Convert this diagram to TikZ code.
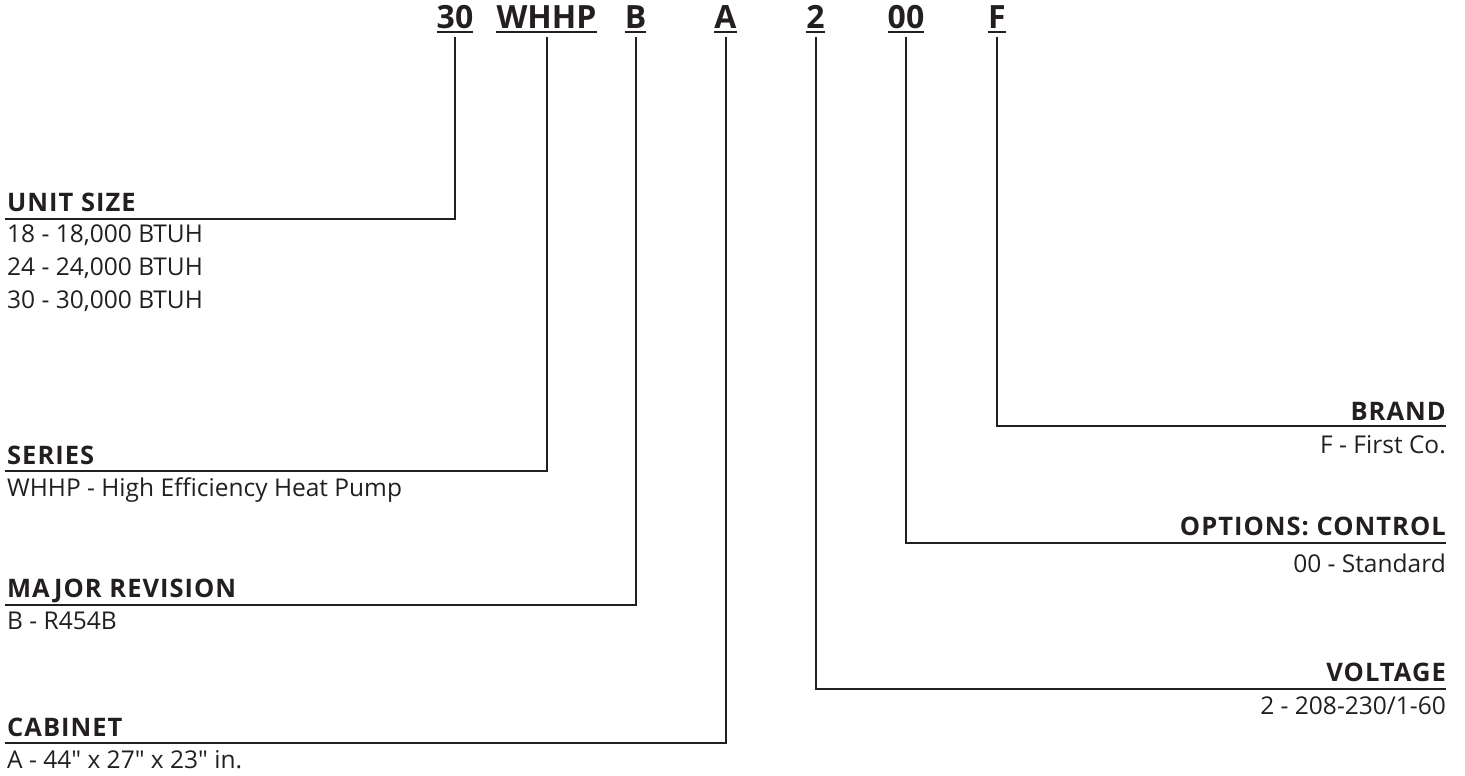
\documentclass[tikz,border=0pt]{standalone}
\usepackage{fontspec}
\setmainfont{Open Sans}
\newfontfamily\hdfamily[LetterSpace=4]{Open Sans}
\newfontfamily\dsfamily{Open Sans}
\definecolor{ink}{HTML}{231F20}
\newcommand{\codefont}{\fontsize{32}{38}\selectfont\bfseries\color{ink}}
\newcommand{\headfont}{\hdfamily\fontsize{25.5}{30}\selectfont\bfseries\color{ink}}
\newcommand{\descfont}{\dsfamily\fontsize{24.5}{33}\selectfont\color{ink}}

\begin{document}
\begin{tikzpicture}[x=1pt,y=-1pt,
  code/.style={inner sep=0pt,anchor=base,font=\codefont},
  headl/.style={inner sep=0pt,anchor=base west,font=\headfont},
  headr/.style={inner sep=0pt,anchor=base east,font=\headfont},
  descl/.style={inner sep=0pt,anchor=base west,font=\descfont},
  descr/.style={inner sep=0pt,anchor=base east,font=\descfont},
  conn/.style={line width=2pt,draw=ink}]

  \useasboundingbox (0,0) rectangle (1465,776);

  % model number
  \node[code] (n30) at (455,29) {30};
  \node[code] (nwhhp) at (546.5,29) {WHHP};
  \node[code] (nb) at (635.5,29) {B};
  \node[code] (na) at (725.5,29) {A};
  \node[code] (n2) at (815.5,29) {2};
  \node[code] (n00) at (906,29) {00};
  \node[code] (nf) at (997,29) {F};

  \foreach \n in {n30,nwhhp,nb,na,n2,n00,nf}
    \draw[conn] ([yshift=-3.5pt]\n.base west) -- ([yshift=-3.5pt]\n.base east);

  % line ends
  \coordinate (lunit) at (5,219);
  \coordinate (lseries) at (5,471);
  \coordinate (lmajor) at (5,605);
  \coordinate (lcab) at (5,743);
  \coordinate (rbrand) at (1446,426);
  \coordinate (ropt) at (1446,543);
  \coordinate (rvolt) at (1446,689);

  % left side
  \node[headl] (unit) at (7,211) {UNIT SIZE};
  \draw (7,242) node[descl] (u18) {18 - 18,000 BTUH}
  ++(0,33) node[descl] (u24) {24 - 24,000 BTUH}
  ++(0,33) node[descl] (u30) {30 - 30,000 BTUH};

  \node[headl] (series) at (7,464) {SERIES};
  \node[descl] (whhp) at (7,496) {WHHP - High Efficiency Heat Pump};

  \node[headl] (major) at (7,597) {MAJOR REVISION};
  \node[descl] (r454b) at (7,629) {B - R454B};

  \node[headl] (cab) at (7,736) {CABINET};
  \node[descl] (cabA) at (7,768) {A - 44" x 27" x 23" in.};

  % right side
  \node[headr] (brand) at (1446,420) {BRAND};
  \node[descr] (first) at (1446,453) {F - First Co.};

  \node[headr] (opt) at (1446,535) {OPTIONS: CONTROL};
  \node[descr] (std) at (1446,572) {00 - Standard};

  \node[headr] (volt) at (1446,681) {VOLTAGE};
  \node[descr] (v208) at (1446,714) {2 - 208-230/1-60};

  % connectors
  \draw[conn] ([yshift=-8pt]n30.base) |- (lunit);
  \draw[conn] ([yshift=-8pt]nwhhp.base) |- (lseries);
  \draw[conn] ([yshift=-8pt]nb.base) |- (lmajor);
  \draw[conn] ([yshift=-8pt]na.base) |- (lcab);
  \draw[conn] ([yshift=-8pt]n2.base) |- (rvolt);
  \draw[conn] ([yshift=-8pt]n00.base) |- (ropt);
  \draw[conn] ([yshift=-8pt]nf.base) |- (rbrand);

\end{tikzpicture}
\end{document}
